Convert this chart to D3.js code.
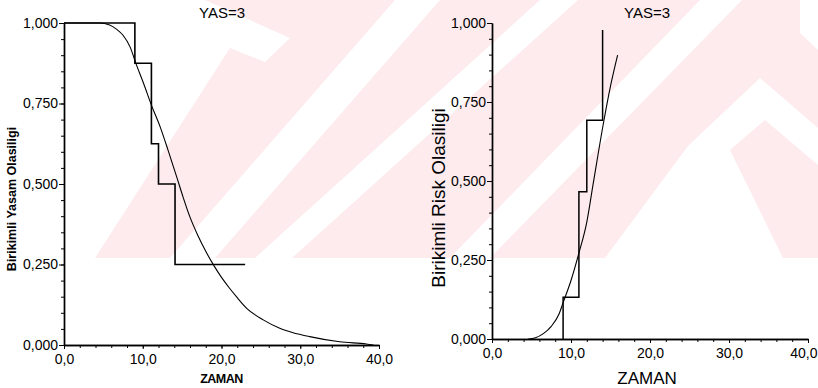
<!DOCTYPE html>
<html><head><meta charset="utf-8">
<script src="https://cdn.jsdelivr.net/npm/d3@7"></script>
<style>body{margin:0;background:#fff}svg{display:block}text{font-family:"Liberation Sans",Arial,sans-serif;fill:#000}</style>
</head><body><svg id="c" width="818" height="388"></svg>
<script>
// ---- data ----
const timeTicks = [0, 10, 20, 30, 40];
const timeTickLabels = ["0,0", "10,0", "20,0", "30,0", "40,0"];
const probTicks = [0, 0.25, 0.5, 0.75, 1];
const probTickLabels = ["0,000", "0,250", "0,500", "0,750", "1,000"];
const panelTitles = ["YAS=3", "YAS=3"];

// left panel: Kaplan-Meier survival step + fitted survival curve
const kmTimes = [0, 9, 11.1, 12, 14.1, 23];
const kmSurvival = [1, 0.875, 0.625, 0.5, 0.25, 0.25];
const fitSTimes = [0, 4.5, 5.8, 6.7, 7.5, 8.4, 9.2, 10.1, 11.1, 12.2, 13.2, 14.3, 15.1, 16.0, 17.0, 18.0, 19.0, 20.0, 21.0, 22.0, 23.2, 25.3, 27.4, 29.0, 31.2, 35.0, 38.4, 39.3];
const fitSurvival = [1, 1, 0.994, 0.980, 0.962, 0.925, 0.870, 0.813, 0.745, 0.678, 0.606, 0.523, 0.461, 0.397, 0.340, 0.291, 0.248, 0.210, 0.177, 0.147, 0.114, 0.078, 0.052, 0.039, 0.026, 0.010, 0.003, 0.0];

// right panel: cumulative risk step + fitted cumulative risk curve
const riskTimes = [9, 9, 11, 12, 14];
const riskValues = [0, 0.132, 0.466, 0.692, 0.978];
const fitRTimes = [4.6, 5.5, 6.5, 7.5, 8.5, 9.0, 10.0, 11.0, 12.0, 12.8, 14.1, 15.0, 15.9];
const fitRisk = [0, 0.004, 0.017, 0.04, 0.08, 0.115, 0.185, 0.272, 0.37, 0.49, 0.682, 0.8, 0.898];

// ---- drawing ----
const svg = d3.select("#c");
// faint background watermark (decoration only)
const wm = svg.append("g");
wm.append("rect").attr("x", 0).attr("y", 0).attr("width", 818).attr("height", 258).attr("fill", "#fdebee");
const whiteShapes = [
  [[0,0],[205,0],[290,38],[265,62],[230,48],[95,258],[0,258]],
  [[395,0],[440,0],[215,258],[170,258]],
  [[540,0],[578,0],[292,258],[255,258]],
  [[700,0],[742,0],[490,258],[450,258]],
  [[760,78],[818,128],[818,165],[765,120],[730,150],[783,258],[605,258],[688,146]],
  [[800,0],[818,0],[818,50],[800,33]]
];
whiteShapes.forEach(p => wm.append("path").attr("d", "M" + p.join("L") + "Z").attr("fill", "#fff"));

const xL = d3.scaleLinear().domain([0, 40]).range([64, 379]);
const yL = d3.scaleLinear().domain([0, 1]).range([345, 23]);
const xR = d3.scaleLinear().domain([0, 40]).range([492, 808]);
const yR = d3.scaleLinear().domain([0, 1]).range([339, 23]);

function axes(x, y) {
  const g = svg.append("g");
  const minorY = d3.range(0, 1.0001, 0.05);
  const minorX = d3.range(0, 40.001, 2);
  g.append("g").attr("transform", `translate(${x(0)},0)`)
    .call(d3.axisLeft(y).tickValues(minorY).tickSize(3).tickSizeOuter(0).tickFormat(""));
  g.append("g").attr("transform", `translate(${x(0)},0)`)
    .call(d3.axisLeft(y).tickValues(probTicks).tickSize(5).tickSizeOuter(0).tickPadding(1)
      .tickFormat((d, i) => probTickLabels[i]));
  g.append("g").attr("transform", `translate(0,${y(0)})`)
    .call(d3.axisBottom(x).tickValues(minorX).tickSize(3).tickSizeOuter(0).tickFormat(""));
  const xa = g.append("g").attr("transform", `translate(0,${y(0)})`)
    .call(d3.axisBottom(x).tickValues(timeTicks).tickSize(4).tickSizeOuter(0).tickPadding(5)
      .tickFormat((d, i) => timeTickLabels[i]));
  g.selectAll("path.domain").attr("stroke", "#000").attr("stroke-width", 1.4);
  g.selectAll(".tick line").attr("stroke", "#000").attr("stroke-width", 1);
  g.selectAll(".tick text").attr("font-size", 14).attr("font-family", '"Liberation Sans",Arial,sans-serif').attr("fill", "#000");
  return xa;
}
axes(xL, yL);
const xaR = axes(xR, yR);
// last label of right panel sits against the picture edge
xaR.selectAll(".tick text").filter(d => d === 40).attr("text-anchor", "end").attr("x", 817 - xR(40));

// left panel lines
const stepL = d3.line().x(d => xL(d[0])).y(d => yL(d[1])).curve(d3.curveStepAfter);
svg.append("path").attr("d", stepL(kmTimes.map((t, i) => [t, kmSurvival[i]])))
  .attr("fill", "none").attr("stroke", "#000").attr("stroke-width", 1.6);
const smoothL = d3.line().x(d => xL(d[0])).y(d => yL(d[1])).curve(d3.curveMonotoneX);
svg.append("path").attr("d", smoothL(fitSTimes.map((t, i) => [t, fitSurvival[i]])))
  .attr("fill", "none").attr("stroke", "#000").attr("stroke-width", 1.1);

// right panel lines
const stepR = d3.line().x(d => xR(d[0])).y(d => yR(d[1])).curve(d3.curveStepAfter);
svg.append("path").attr("d", stepR(riskTimes.map((t, i) => [t, riskValues[i]])))
  .attr("fill", "none").attr("stroke", "#000").attr("stroke-width", 1.5);
const smoothR = d3.line().x(d => xR(d[0])).y(d => yR(d[1])).curve(d3.curveMonotoneX);
svg.append("path").attr("d", smoothR(fitRTimes.map((t, i) => [t, fitRisk[i]])))
  .attr("fill", "none").attr("stroke", "#000").attr("stroke-width", 1.1);

// titles and axis labels
svg.append("text").attr("x", 222).attr("y", 18).attr("text-anchor", "middle").attr("font-size", 15).text(panelTitles[0]);
svg.append("text").attr("x", 647).attr("y", 18).attr("text-anchor", "middle").attr("font-size", 15).text(panelTitles[1]);
svg.append("text").attr("transform", "translate(15.5,199) rotate(-90)").attr("text-anchor", "middle")
  .attr("font-size", 12.5).attr("font-weight", "bold").text("Birikimli Yasam Olasiligi");
svg.append("text").attr("transform", "translate(444.5,198) rotate(-90)").attr("text-anchor", "middle")
  .attr("font-size", 19).text("Birikimli Risk Olasiligi");
svg.append("text").attr("x", 221.5).attr("y", 383).attr("text-anchor", "middle")
  .attr("font-size", 12.5).attr("font-weight", "bold").attr("letter-spacing", -0.5).text("ZAMAN");
svg.append("text").attr("x", 647).attr("y", 383.5).attr("text-anchor", "middle")
  .attr("font-size", 17).text("ZAMAN");
</script></body></html>
